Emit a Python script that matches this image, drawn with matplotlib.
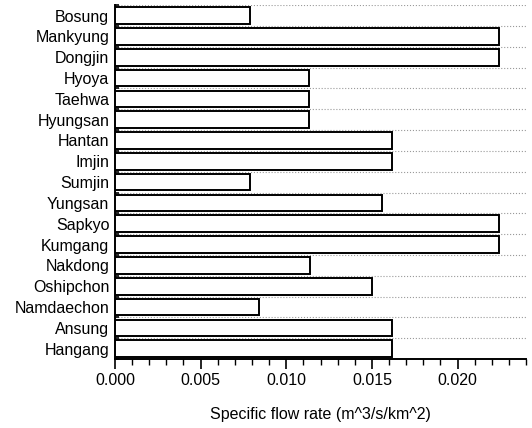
import matplotlib
matplotlib.use("Agg")
import matplotlib.pyplot as plt
from matplotlib.ticker import MultipleLocator, FixedLocator
import numpy as np

# basins, bottom to top
names = ["Hangang", "Ansung", "Namdaechon", "Oshipchon", "Nakdong", "Kumgang",
         "Sapkyo", "Yungsan", "Sumjin", "Imjin", "Hantan", "Hyungsan",
         "Taehwa", "Hyoya", "Dongjin", "Mankyung", "Bosung"]
values = [0.0162, 0.0162, 0.0084, 0.0150, 0.0114, 0.0224,
          0.0224, 0.0156, 0.0079, 0.0162, 0.0162, 0.0113,
          0.0113, 0.0113, 0.0224, 0.0224, 0.0079]
xticks = [0.000, 0.005, 0.010, 0.015, 0.020]
xtick_labels = ["0.000", "0.005", "0.010", "0.015", "0.020"]
xlabel = "Specific flow rate (m^3/s/km^2)"

plt.rcParams['font.family'] = ['Liberation Sans', 'DejaVu Sans']

fig = plt.figure(figsize=(5.32, 4.28), dpi=100)
ax = fig.add_axes([0.216, 0.161, 0.773, 0.827])

y = np.arange(len(names))
ax.barh(y, values, height=0.8, color='white', edgecolor='black', linewidth=1.4, zorder=3)

ax.set_ylim(-0.5, len(names) - 0.5)
ax.set_xlim(0, 0.0240)
ax.set_yticks(y)
ax.set_yticklabels(names, fontsize=11.5)
ax.yaxis.set_minor_locator(FixedLocator(np.arange(-0.5, len(names), 1.0)))
ax.tick_params(axis='y', which='major', length=0, pad=4)
ax.tick_params(axis='y', which='minor', direction='in', length=3, width=1.2)

ax.set_xticks(xticks)
ax.set_xticklabels(xtick_labels, fontsize=11.5)
ax.xaxis.set_minor_locator(MultipleLocator(0.001))
ax.tick_params(axis='x', which='major', direction='out', length=7, width=1.2, pad=3)
ax.tick_params(axis='x', which='minor', direction='out', length=4, width=1.0)

ax.grid(axis='y', which='minor', linestyle=':', color='#9a9a9a', linewidth=0.8, zorder=0)
ax.set_xlabel(xlabel, fontsize=11.5, labelpad=14)

for s in ['top', 'right']:
    ax.spines[s].set_visible(False)
for s in ['left', 'bottom']:
    ax.spines[s].set_linewidth(1.4)

fig.savefig("out.png", dpi=100)
